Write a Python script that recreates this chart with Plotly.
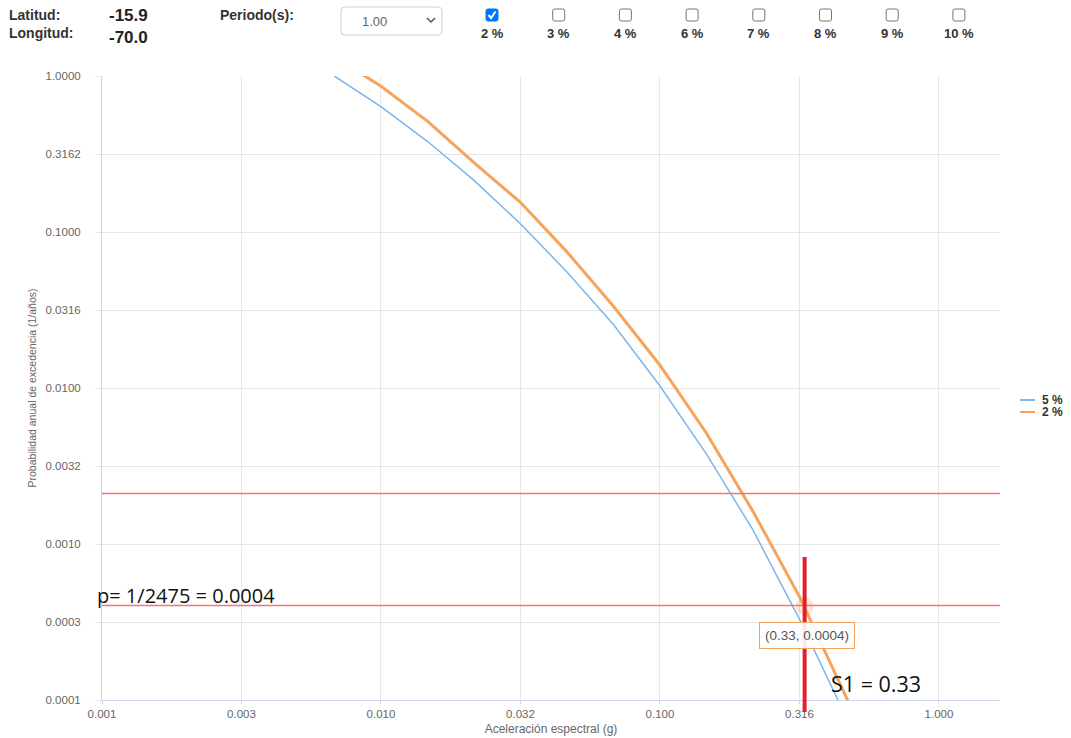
import math
import plotly.graph_objects as go

# Spectral acceleration (g) where the hazard curves are sampled
sa_g = [0.0068, 0.0100, 0.0147, 0.0215, 0.0316, 0.0464, 0.0681, 0.1000,
        0.1468, 0.2154, 0.3162, 0.4642, 0.6813]
# Annual probability of exceedance for each curve
p_5pct = [1.00, 0.636, 0.380, 0.215, 0.113, 0.0555, 0.0255, 0.0103,
          0.00377, 0.00123, 0.00033, 0.000078, 0.000017]
p_2pct = [1.33, 0.859, 0.512, 0.279, 0.155, 0.0746, 0.0334, 0.0140,
          0.00513, 0.00162, 0.00046, 0.000102, 0.000024]

series_names = ["5 %", "2 %"]
series_colors = ["#7cb5ec", "#f7a35c"]
series_widths = [1.5, 3]

# Return periods drawn as horizontal reference lines
return_periods = [475, 2475]
design_period = 2475
s1_value = 0.33
p_design = 0.0004

# Header controls
latitude = -15.9
longitude = -70.0
period_value = "1.00"
option_labels = ["2 %", "3 %", "4 %", "6 %", "7 %", "8 %", "9 %", "10 %"]
option_checked = [True, False, False, False, False, False, False, False]

W, H = 1071, 738
ML, MR, MT, MB = 102, 71, 76, 38
PW, PH = W - ML - MR, H - MT - MB


def fx(px):
    return (px - ML) / PW


def fy(py):
    return (H - MB - py) / PH


fig = go.Figure()

for name, ys, col, lw in zip(series_names, [p_5pct, p_2pct], series_colors, series_widths):
    fig.add_trace(go.Scatter(x=sa_g, y=ys, mode="lines", name=name,
                             line=dict(color=col, width=lw),
                             showlegend=False, hoverinfo="skip"))

# highlighted design point
fig.add_trace(go.Scatter(x=[s1_value], y=[p_design], mode="markers", showlegend=False,
                         marker=dict(size=18, color="rgba(247,163,92,0.28)"),
                         hoverinfo="skip"))
fig.add_trace(go.Scatter(x=[s1_value], y=[p_design], mode="markers", showlegend=False,
                         marker=dict(size=8, symbol="triangle-up", color="#fbd3b0",
                                     line=dict(color="white", width=1)),
                         hoverinfo="skip"))

shapes = []
for T in return_periods:
    shapes.append(dict(type="line", xref="paper", yref="y", x0=0, x1=1,
                       y0=1 / T, y1=1 / T, line=dict(color="#f07878", width=1.5),
                       layer="above"))

shapes.append(dict(type="line", xref="x", yref="paper", x0=s1_value, x1=s1_value,
                   y0=fy(712), y1=fy(557), line=dict(color="#e41e2b", width=4),
                   layer="above"))

annotations = []
annotations.append(dict(xref="paper", yref="y", x=0, y=math.log10(1 / design_period),
                        xshift=-7, yshift=10, xanchor="left", yanchor="middle",
                        text=f"p= 1/{design_period} = {1 / design_period:.4f}",
                        showarrow=False, font=dict(family="Open Sans", size=20, color="#111")))
annotations.append(dict(xref="x", yref="paper", x=math.log10(s1_value), y=0,
                        xshift=24, yshift=17, xanchor="left", yanchor="middle",
                        text=f"S1 = {s1_value:.2f}", showarrow=False,
                        font=dict(family="Open Sans", size=21.5, color="#111")))
annotations.append(dict(xref="x", yref="y", x=math.log10(s1_value), y=math.log10(p_design),
                        xshift=2, yshift=-29, text=f"({s1_value:.2f}, {p_design:.4f})",
                        showarrow=False, bgcolor="rgba(255,255,255,0.9)",
                        bordercolor="#f7a35c", borderwidth=1, borderpad=5,
                        font=dict(family="Liberation Sans, Arial", size=13.5, color="#555")))

# legend
for i, (name, col) in enumerate(zip(series_names, series_colors)):
    yy = 400 + 12 * i
    shapes.append(dict(type="line", xref="paper", yref="paper", x0=fx(1020), x1=fx(1035),
                       y0=fy(yy), y1=fy(yy), line=dict(color=col, width=2)))
    annotations.append(dict(xref="paper", yref="paper", x=fx(1040), y=fy(yy),
                            xanchor="left", yanchor="middle", text=f"<b>{name}</b>",
                            showarrow=False,
                            font=dict(family="Liberation Sans, Arial", size=12, color="#333")))

# header: coordinates
hdr_font = dict(family="Liberation Sans, Arial", size=14, color="#333")
val_font = dict(family="Liberation Sans, Arial", size=17, color="#222")
for txt, x, y, f in [("Latitud:", 7, 15, hdr_font), ("Longitud:", 7, 33, hdr_font),
                     (f"{latitude:.1f}", 107, 16, val_font),
                     (f"{longitude:.1f}", 107, 37, val_font),
                     ("Periodo(s):", 218, 15, hdr_font)]:
    annotations.append(dict(xref="paper", yref="paper", x=fx(x), y=fy(y), xanchor="left",
                            yanchor="middle", text=f"<b>{txt}</b>", showarrow=False, font=f))


def rounded_rect(x0, y0, x1, y1, r):
    pts = (f"M {fx(x0 + r)},{fy(y0)} L {fx(x1 - r)},{fy(y0)} "
           f"Q {fx(x1)},{fy(y0)} {fx(x1)},{fy(y0 + r)} L {fx(x1)},{fy(y1 - r)} "
           f"Q {fx(x1)},{fy(y1)} {fx(x1 - r)},{fy(y1)} L {fx(x0 + r)},{fy(y1)} "
           f"Q {fx(x0)},{fy(y1)} {fx(x0)},{fy(y1 - r)} L {fx(x0)},{fy(y0 + r)} "
           f"Q {fx(x0)},{fy(y0)} {fx(x0 + r)},{fy(y0)} Z")
    return pts


# period dropdown
shapes.append(dict(type="path", xref="paper", yref="paper", path=rounded_rect(341, 7, 442, 35, 4),
                   line=dict(color="#cfcfcf", width=1), fillcolor="white"))
annotations.append(dict(xref="paper", yref="paper", x=fx(360), y=fy(21), xanchor="left",
                        yanchor="middle", text=period_value, showarrow=False,
                        font=dict(family="Liberation Sans, Arial", size=13, color="#666")))
shapes.append(dict(type="path", xref="paper", yref="paper",
                   path=f"M {fx(427)},{fy(18)} L {fx(431)},{fy(22)} L {fx(435)},{fy(18)}",
                   line=dict(color="#555", width=1.5)))

# exceedance-level checkboxes
cx0, dcx = 492, 66.7
for i, (lab, chk) in enumerate(zip(option_labels, option_checked)):
    cx = cx0 + dcx * i
    if chk:
        shapes.append(dict(type="path", xref="paper", yref="paper",
                           path=rounded_rect(cx - 6, 9, cx + 6, 21, 2),
                           line=dict(color="#0075ff", width=1), fillcolor="#0075ff"))
        shapes.append(dict(type="path", xref="paper", yref="paper",
                           path=f"M {fx(cx - 3.5)},{fy(15)} L {fx(cx - 1)},{fy(18)} L {fx(cx + 3.5)},{fy(11.5)}",
                           line=dict(color="white", width=2)))
    else:
        shapes.append(dict(type="path", xref="paper", yref="paper",
                           path=rounded_rect(cx - 6, 9, cx + 6, 21, 2),
                           line=dict(color="#767676", width=1), fillcolor="white"))
    annotations.append(dict(xref="paper", yref="paper", x=fx(cx), y=fy(33), xanchor="center",
                            yanchor="middle", text=f"<b>{lab}</b>", showarrow=False,
                            font=dict(family="Liberation Sans, Arial", size=13, color="#333")))

fig.update_layout(
    width=W, height=H,
    margin=dict(l=ML, r=MR, t=MT, b=MB, pad=0, autoexpand=False),
    paper_bgcolor="white", plot_bgcolor="white",
    shapes=shapes, annotations=annotations,
    showlegend=False,
    font=dict(family="Liberation Sans, Arial", color="#666"),
    xaxis=dict(type="log", range=[-3, math.log10(1.655)], dtick=0.5, tick0=0,
               tickformat=".3f", showgrid=True, gridcolor="#e6e6e6", gridwidth=1,
               showline=True, linecolor="#ccd6eb", linewidth=1, zeroline=False,
               ticks="outside", ticklen=3, tickcolor="#ccd6eb", automargin=False,
               tickfont=dict(size=11.5, color="#666"),
               title=dict(text="Aceleración espectral (g)", font=dict(size=12, color="#666"),
                          standoff=5)),
    yaxis=dict(type="log", range=[-4, 0], dtick=0.5, tick0=0, tickformat=".4f",
               showgrid=True, gridcolor="#e6e6e6", gridwidth=1,
               showline=True, linecolor="#ccd6eb", linewidth=1, zeroline=False,
               ticks="outside", ticklen=6, tickcolor="#e6e6e6", ticklabelstandoff=12,
               automargin=False,
               tickfont=dict(size=11.5, color="#666"),
               title=dict(text="Probabilidad anual de excedencia (1/años)",
                          font=dict(size=10.5, color="#666"), standoff=6)),
)

fig.write_html("out.html")
